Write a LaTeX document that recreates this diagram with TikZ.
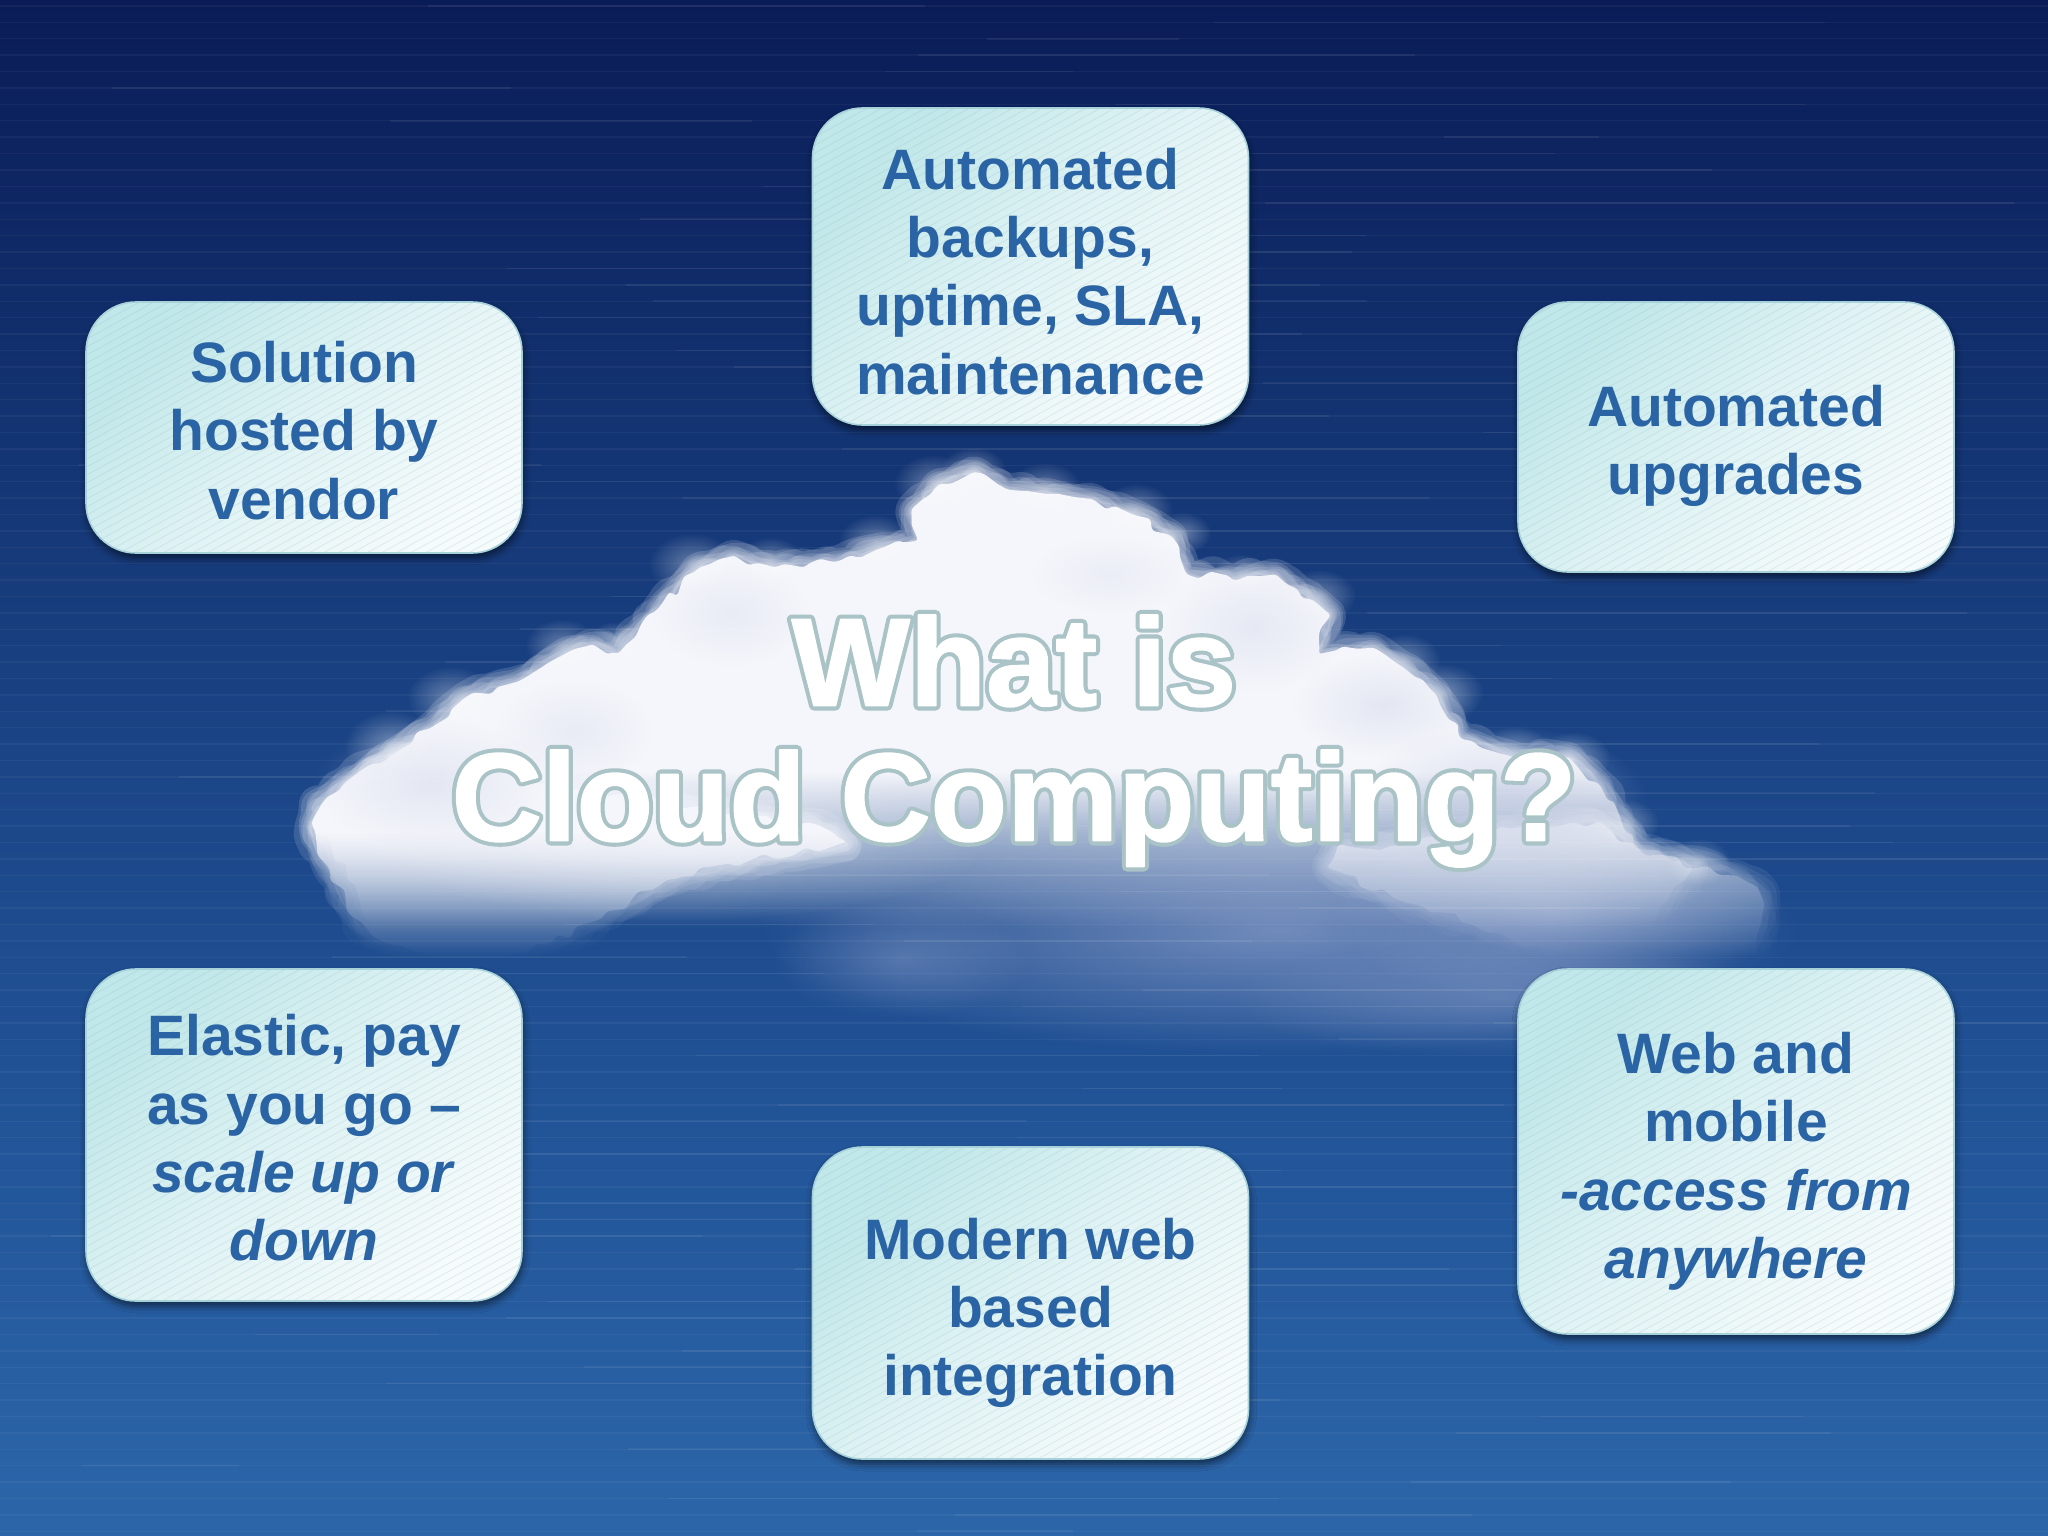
\documentclass[tikz,border=0pt]{standalone}
\usepackage{fontspec}
\setmainfont{Liberation Sans}
\usetikzlibrary{fadings,shadows.blur,decorations.pathmorphing}
\definecolor{boxtext}{HTML}{2A64A4}
\definecolor{boxa}{HTML}{C0E7E9}
\definecolor{boxb}{HTML}{F6FBFC}
\definecolor{boxedge}{HTML}{A8D2DA}
\definecolor{hatch}{HTML}{8DB4BE}
\definecolor{sky0}{HTML}{2C66A9}
\definecolor{sky1}{HTML}{225599}
\definecolor{sky2}{HTML}{1B4587}
\definecolor{sky3}{HTML}{12316F}
\definecolor{sky4}{HTML}{0A1C57}
\definecolor{lav}{HTML}{A9B6DA}
\definecolor{lavb}{HTML}{C4CCE4}
\definecolor{cloudw}{HTML}{F5F6FB}
\definecolor{halo}{HTML}{A9C3C6}
\pgfdeclareverticalshading{skybg}{100bp}{color(0bp)=(sky0); color(25bp)=(sky0); color(37.5bp)=(sky1); color(50bp)=(sky2); color(62.5bp)=(sky3); color(75bp)=(sky4); color(100bp)=(sky4)}
\pgfdeclareverticalshading{bodyfadeshade}{100bp}{color(0bp)=(pgftransparent!100); color(12bp)=(pgftransparent!100); color(38bp)=(pgftransparent!0); color(100bp)=(pgftransparent!0)}
\pgfdeclarefading{bodyfade}{\pgfuseshading{bodyfadeshade}}
\pgfdeclareverticalshading{lobefadeshade}{100bp}{color(0bp)=(pgftransparent!100); color(7bp)=(pgftransparent!100); color(28bp)=(pgftransparent!0); color(100bp)=(pgftransparent!0)}
\pgfdeclarefading{lobefade}{\pgfuseshading{lobefadeshade}}
\tikzfading[name=softc, inner color=transparent!0, outer color=transparent!100]
\newcommand\puff[5][white]{\fill[#1,opacity=#5,path fading=softc] (#2,#3) ellipse (#4);}
\newcommand\softblob[1]{%
  \foreach \w in {32,26,21,16,12,8,5,2}{\draw[cloudw,fluffy,opacity=.15,line width=\w pt,line join=round] #1;}
  \fill[cloudw,fluffy] #1;}
\tikzset{
  x=1pt,y=-1pt,
  fluffy/.style={decorate,decoration={random steps,segment length=12pt,amplitude=5pt},rounded corners=3pt},
  infobox/.style={rectangle,rounded corners=50pt,minimum width=436pt,inner sep=0pt,align=center,
    font=\fontsize{57}{68.3}\selectfont\bfseries,text=boxtext,draw=boxedge,line width=1.6pt,
    top color=boxa,bottom color=boxb,middle color=boxa!40!boxb,shading angle=45,
    blur shadow={shadow xshift=1pt,shadow yshift=-5pt,shadow blur radius=7pt,shadow opacity=55},
    path picture={\foreach \k in {-46,...,46}{\draw[hatch,opacity=.2,line width=.9pt]
      (path picture bounding box.center) ++(-300,\k*8+165) -- ++(600,-330);}}},
  titletext/.style={text=white,align=center},
}
\newcommand\lo[1]{\rule{0pt}{\dimexpr 41pt+#1pt+#1pt\relax}}
\newcommand\roundjoin{\special{pdf:code 1 j}}
\begin{document}
\begin{tikzpicture}
\useasboundingbox (0,0) rectangle (2048,1536);
\shade[shading=skybg] (0,0) rectangle (2048,1536);
\pgfmathsetseed{4242}
% cloud haze
\begin{scope}[scale=1.3061]
\puff[lav]{980}{712}{400 and 95}{.60}
\puff[lav]{1150}{765}{210 and 45}{.35}
\puff[lav]{690}{735}{100 and 45}{.30}
\puff[lav]{1190}{700}{170 and 70}{.45}
\puff{520}{640}{240 and 65}{.45}
\end{scope}
% side lobes
\begin{scope}
\pgfsetfading{lobefade}{\pgftransformshift{\pgfpoint{1024pt}{-700pt}}\pgftransformxscale{22}\pgftransformyscale{5.98}}
\begin{scope}[transparency group]
\begin{scope}[scale=1.3061]
\softblob{plot[smooth cycle,tension=.45] coordinates {(240,628)(266,598)(304,578)(360,578)(428,600)(640,640)(520,672)(420,722)(345,735)(285,715)(252,665)}}
\end{scope}
\end{scope}
\begin{scope}[opacity=.75,transparency group]
\begin{scope}[scale=1.3061]
\softblob{plot[smooth cycle,tension=.45] coordinates {(1205,630)(1262,654)(1332,672)(1350,695)(1335,745)(1270,755)(1150,715)(1020,660)}}
\end{scope}
\end{scope}
\end{scope}
% main body
\begin{scope}
\pgfsetfading{bodyfade}{\pgftransformshift{\pgfpoint{1024pt}{-700pt}}\pgftransformxscale{22}\pgftransformyscale{5.98}}
\begin{scope}[transparency group]
\begin{scope}[scale=1.3061]
\softblob{(246,628)--(274,602)--(304,576)--(332,556)--(354,536)--(396,522)--(434,500)--(452,494)--(472,500)--(504,466)--(534,436)--(560,426)--(592,434)--(640,430)--(674,420)--(702,414)--(698,392)--(718,372)--(745,362)--(770,374)--(800,378)--(835,382)--(868,394)--(896,410)--(908,438)--(945,444)--(975,440)--(1006,460)--(1018,470)--(1010,500)--(1050,496)--(1073,510)--(1098,530)--(1118,564)--(1160,580)--(1200,580)--(1224,600)--(1252,648)--(1296,664)--(1240,740)--(300,740)--cycle}
\end{scope}
\end{scope}
\end{scope}
\begin{scope}[scale=1.3061]
\foreach \px/\py/\pr in {300/570/26,345/534/24,430/494/20,470/490/14,530/432/24,590/429/18,670/414/20,715/370/22,745/360/18,800/374/20,870/390/20,905/408/16,950/440/16,1010/456/20,1075/505/20,1105/530/22,1160/576/20,1205/580/20,1245/630/18,1300/660/18}{
  \puff{\px}{\py}{\pr*1.4 and \pr}{.35}}
\puff[lavb]{1150}{610}{110 and 55}{.55}
\puff[lavb]{330}{600}{90 and 50}{.35}
\puff[lavb]{960}{480}{70 and 50}{.30}
\puff[lavb]{1060}{540}{70 and 40}{.35}
\puff[lavb]{560}{470}{60 and 40}{.25}
\puff[lavb]{440}{560}{60 and 40}{.25}
\puff[lavb]{850}{440}{60 and 30}{.20}
\end{scope}
% sky stripes, seen through the haze
\foreach \y in {6,22.4,...,1536}{
  \draw[white,opacity=.045,line width=1.4pt] (0,\y) -- (2048,\y);
  \pgfmathsetmacro\xa{1600*rnd}\pgfmathsetmacro\xb{\xa+150+600*rnd}
  \draw[white,opacity=.06,line width=1.6pt] (\xa,\y) -- (\xb,\y);
}
% boxes
\node[infobox,minimum height=251pt] (hosted) at (304,427.5) {\lo{3}Solution\\hosted by\\vendor};
\node[infobox,minimum height=317pt] (backups) at (1030.5,266.5) {\lo{5}Automated\\backups,\\uptime, SLA,\\maintenance};
\node[infobox,minimum height=270pt] (upgrades) at (1736,437) {\lo{9}Automated\\upgrades};
\node[infobox,minimum height=332pt] (elastic) at (304,1135) {\lo{3}Elastic, pay\\as you go --\\\textit{scale up or}\\\textit{down}};
\node[infobox,minimum height=365pt] (mobile) at (1736,1151.5) {\lo{10}Web and\\mobile\\\textit{-access from}\\\textit{anywhere}};
\node[infobox,minimum height=312pt] (integration) at (1030.5,1303) {\lo{10}Modern web\\based\\integration};
% title: a wide teal stroke under the white letters gives the glow
\node[titletext,text=halo,font={\fontspec{Liberation Sans Bold}[FakeBold=8]\fontsize{125}{135}\selectfont}] (titleglow) at (1014,741) {\roundjoin What is\\\roundjoin Cloud Computing?};
\node[titletext,font={\fontspec{Liberation Sans Bold}[FakeBold=1.5]\fontsize{125}{135}\selectfont}] (title) at (titleglow) {\roundjoin What is\\\roundjoin Cloud Computing?};
\end{tikzpicture}
\end{document}
